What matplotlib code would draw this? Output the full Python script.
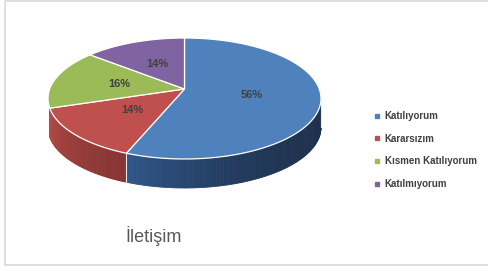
import matplotlib.pyplot as plt
import numpy as np
from matplotlib.lines import Line2D
from matplotlib.patches import Rectangle
from matplotlib.colors import to_rgb

# 数据
labels = ['Katılıyorum', 'Kararsızım', 'Kısmen Katılıyorum', 'Katılmıyorum']
values = [56, 14, 16, 14]
pct_text = ['56%', '14%', '16%', '14%']
title = 'İletişim'

top_colors = ['#4f81bd', '#c0504d', '#9bbb59', '#8064a2']
side_light = ['#30588c', '#b24b48', '#8aa84c', '#6f5690']
side_dark = ['#1e314d', '#873432', '#6c833a', '#574474']
grad_pow = [2.5, 1.3, 1.3, 1.3]

# 饼图几何 (像素坐标, 带透视)
cx, cy = 184.5, 89.0
a, b, k = 134.8, 59.0, 0.157
depth = 29.0


def rim(theta, r=1.0):
    # theta: 从正上方顺时针, 弧度
    s, c = np.sin(theta), np.cos(theta)
    d = 1 + k * c * r
    return cx + a * r * s / d, cy - b * r * c / d


fig = plt.figure(figsize=(4.89, 2.71), dpi=100)
ax = fig.add_axes([0, 0, 1, 1])
ax.set_xlim(0, 489)
ax.set_ylim(271, 0)
ax.axis('off')

# 边框
ax.add_patch(Rectangle((5, 0.5), 500, 264.5, fill=False, ec='#d9d9d9', lw=1.2))

fr = np.array(values) / sum(values)
edges = np.concatenate([[0], np.cumsum(fr)]) * 2 * np.pi

# 侧面 (可见部分)
vis0 = np.arccos(-k)
vis1 = 2 * np.pi - vis0
for i in range(len(values)):
    t0 = max(edges[i], vis0)
    t1 = min(edges[i + 1], vis1)
    if t1 - t0 < 0.2:
        continue
    n = 80
    ts = np.linspace(t0, t1, n + 1)
    cd = np.array(to_rgb(side_dark[i]))
    cl = np.array(to_rgb(side_light[i]))
    for j in range(n):
        xa, ya = rim(ts[j])
        xb, yb = rim(ts[j + 1])
        f = ((ts[j] - t0) / (t1 - t0)) ** grad_pow[i]
        col = cd + (cl - cd) * f
        ax.fill([xa, xb, xb, xa], [ya, yb, yb + depth, ya + depth],
                color=col, lw=0.6, ec=col, zorder=2)
    # 分界线
    xe, ye = rim(t0)
    ax.plot([xe, xe], [ye, ye + depth], color='#e8e8e8', lw=0.8, zorder=3)

# 顶面
for i in range(len(values)):
    ts = np.linspace(edges[i], edges[i + 1], 120)
    xs, ys = rim(ts)
    ax.fill(np.concatenate([[cx], xs]), np.concatenate([[cy], ys]),
            color=top_colors[i], ec='white', lw=0.9, zorder=4)

# 百分比标签
for i in range(len(values)):
    mid = (edges[i] + edges[i + 1]) / 2
    lx, ly = rim(mid, 0.5)
    ax.text(lx, ly, pct_text[i], ha='center', va='center', fontsize=8,
            color='#404040', fontweight='bold', family='Liberation Sans', zorder=5)

# 标题
ax.text(154, 236, title, ha='center', va='center', fontsize=13,
        color='#595959', family='Liberation Sans')

# 图例
handles = [Line2D([], [], marker='s', ls='', color=c, markersize=3.2)
           for c in top_colors]
fig.legend(handles, labels, loc='upper left', bbox_to_anchor=(374 / 489, 1 - 111 / 271),
           frameon=False, handlelength=0.6, handletextpad=0.5,
           labelspacing=1.3, borderaxespad=0, borderpad=0,
           labelcolor='#404040', prop={'family': 'Liberation Sans', 'size': 7, 'weight': 'bold'})

plt.savefig('out.png', dpi=100)
